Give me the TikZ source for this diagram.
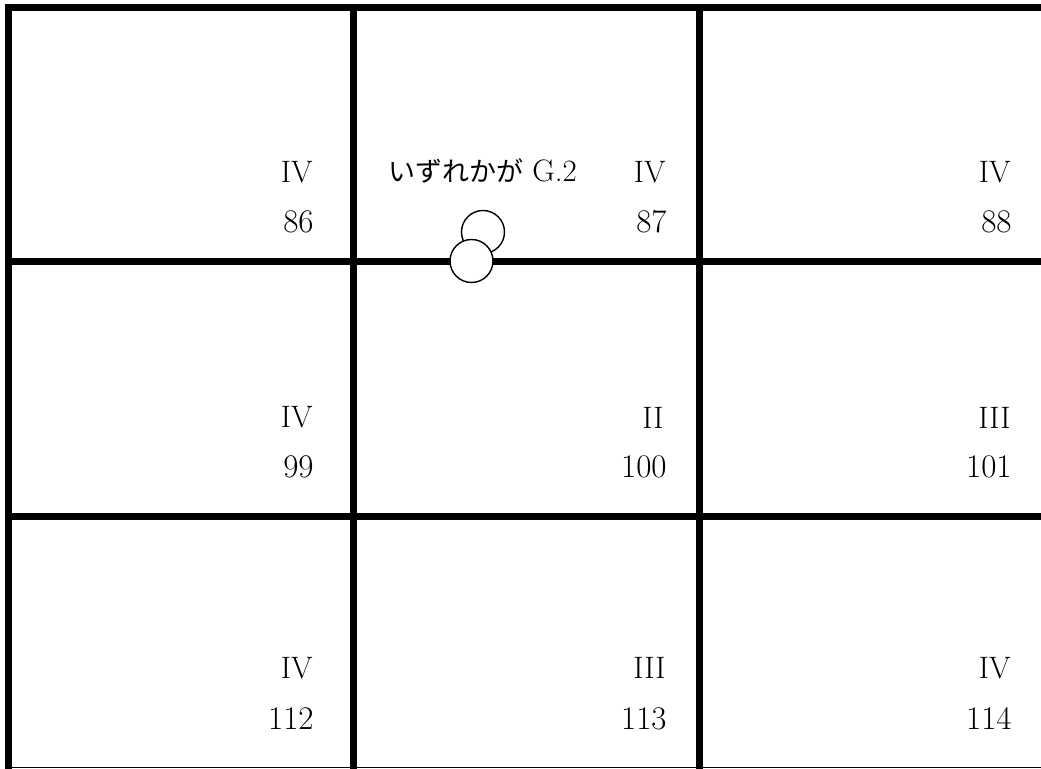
\documentclass[tikz,border=0pt]{standalone}
\usepackage{fontspec}
\newfontfamily\jpfont{Noto Sans CJK JP}
\usetikzlibrary{positioning}
\tikzset{
    gridline/.style={line width=3.5pt, line join=miter},
    rank/.style={anchor=east, inner sep=0pt, font=\fontsize{15.5}{18}\selectfont},
    sheetno/.style={anchor=east, inner sep=0pt, font=\fontsize{16.5}{19}\selectfont},
    ring/.style={draw, circle, fill=white, line width=0.7pt,
                 minimum size=21.5pt, inner sep=0pt},
}

\begin{document}
\begin{tikzpicture}[x=0.5pt, y=-0.5pt]
    \useasboundingbox (0,0) rectangle (1041,769);
    \clip (0,0) rectangle (1041,769);
    % grid
    \draw[line width=0.8pt] (5,767.5) -- (1045,767.5);
    \draw[gridline] (8,780) -- (8,8) -- (1050,8);
    \draw[gridline] (353.5,8) -- (353.5,780);
    \draw[gridline] (699,8) -- (699,780);
    \draw[gridline] (8,262) -- (1050,262);
    \draw[gridline] (8,516.5) -- (1050,516.5);
    % row 1
    \node[rank] (rank86) at (313,172.5) {IV};
    \node[sheetno] (no86) at (314,221.5) {86};
    \node[rank] (rank87) at (666,172.5) {IV};
    \node[sheetno] (no87) at (667,221.5) {87};
    \node[rank] (rank88) at (1011,172.5) {IV};
    \node[sheetno] (no88) at (1012,221.5) {88};
    % row 2
    \node[rank] (rank99) at (313,417.5) {IV};
    \node[sheetno] (no99) at (314,467) {99};
    \node[rank] (rank100) at (664,417.5) {II};
    \node[sheetno] (no100) at (667,467) {100};
    \node[rank] (rank101) at (1011,417.5) {III};
    \node[sheetno] (no101) at (1012,467) {101};
    % row 3
    \node[rank] (rank112) at (313,668) {IV};
    \node[sheetno] (no112) at (314,718.5) {112};
    \node[rank] (rank113) at (666,668) {III};
    \node[sheetno] (no113) at (667,718.5) {113};
    \node[rank] (rank114) at (1011,668) {IV};
    \node[sheetno] (no114) at (1012,718.5) {114};
    % G.2 marker
    \node[anchor=base, inner sep=0pt, font=\fontsize{15.5}{18}\selectfont] (note)
        at (482.5,182) {{\jpfont\fontsize{13.5}{16}\selectfont いずれかが} G.2};
    \node[ring] (ringa) at (483,232) {};
    \node[ring] (ringb) at (471.5,261) {};
\end{tikzpicture}
\end{document}
